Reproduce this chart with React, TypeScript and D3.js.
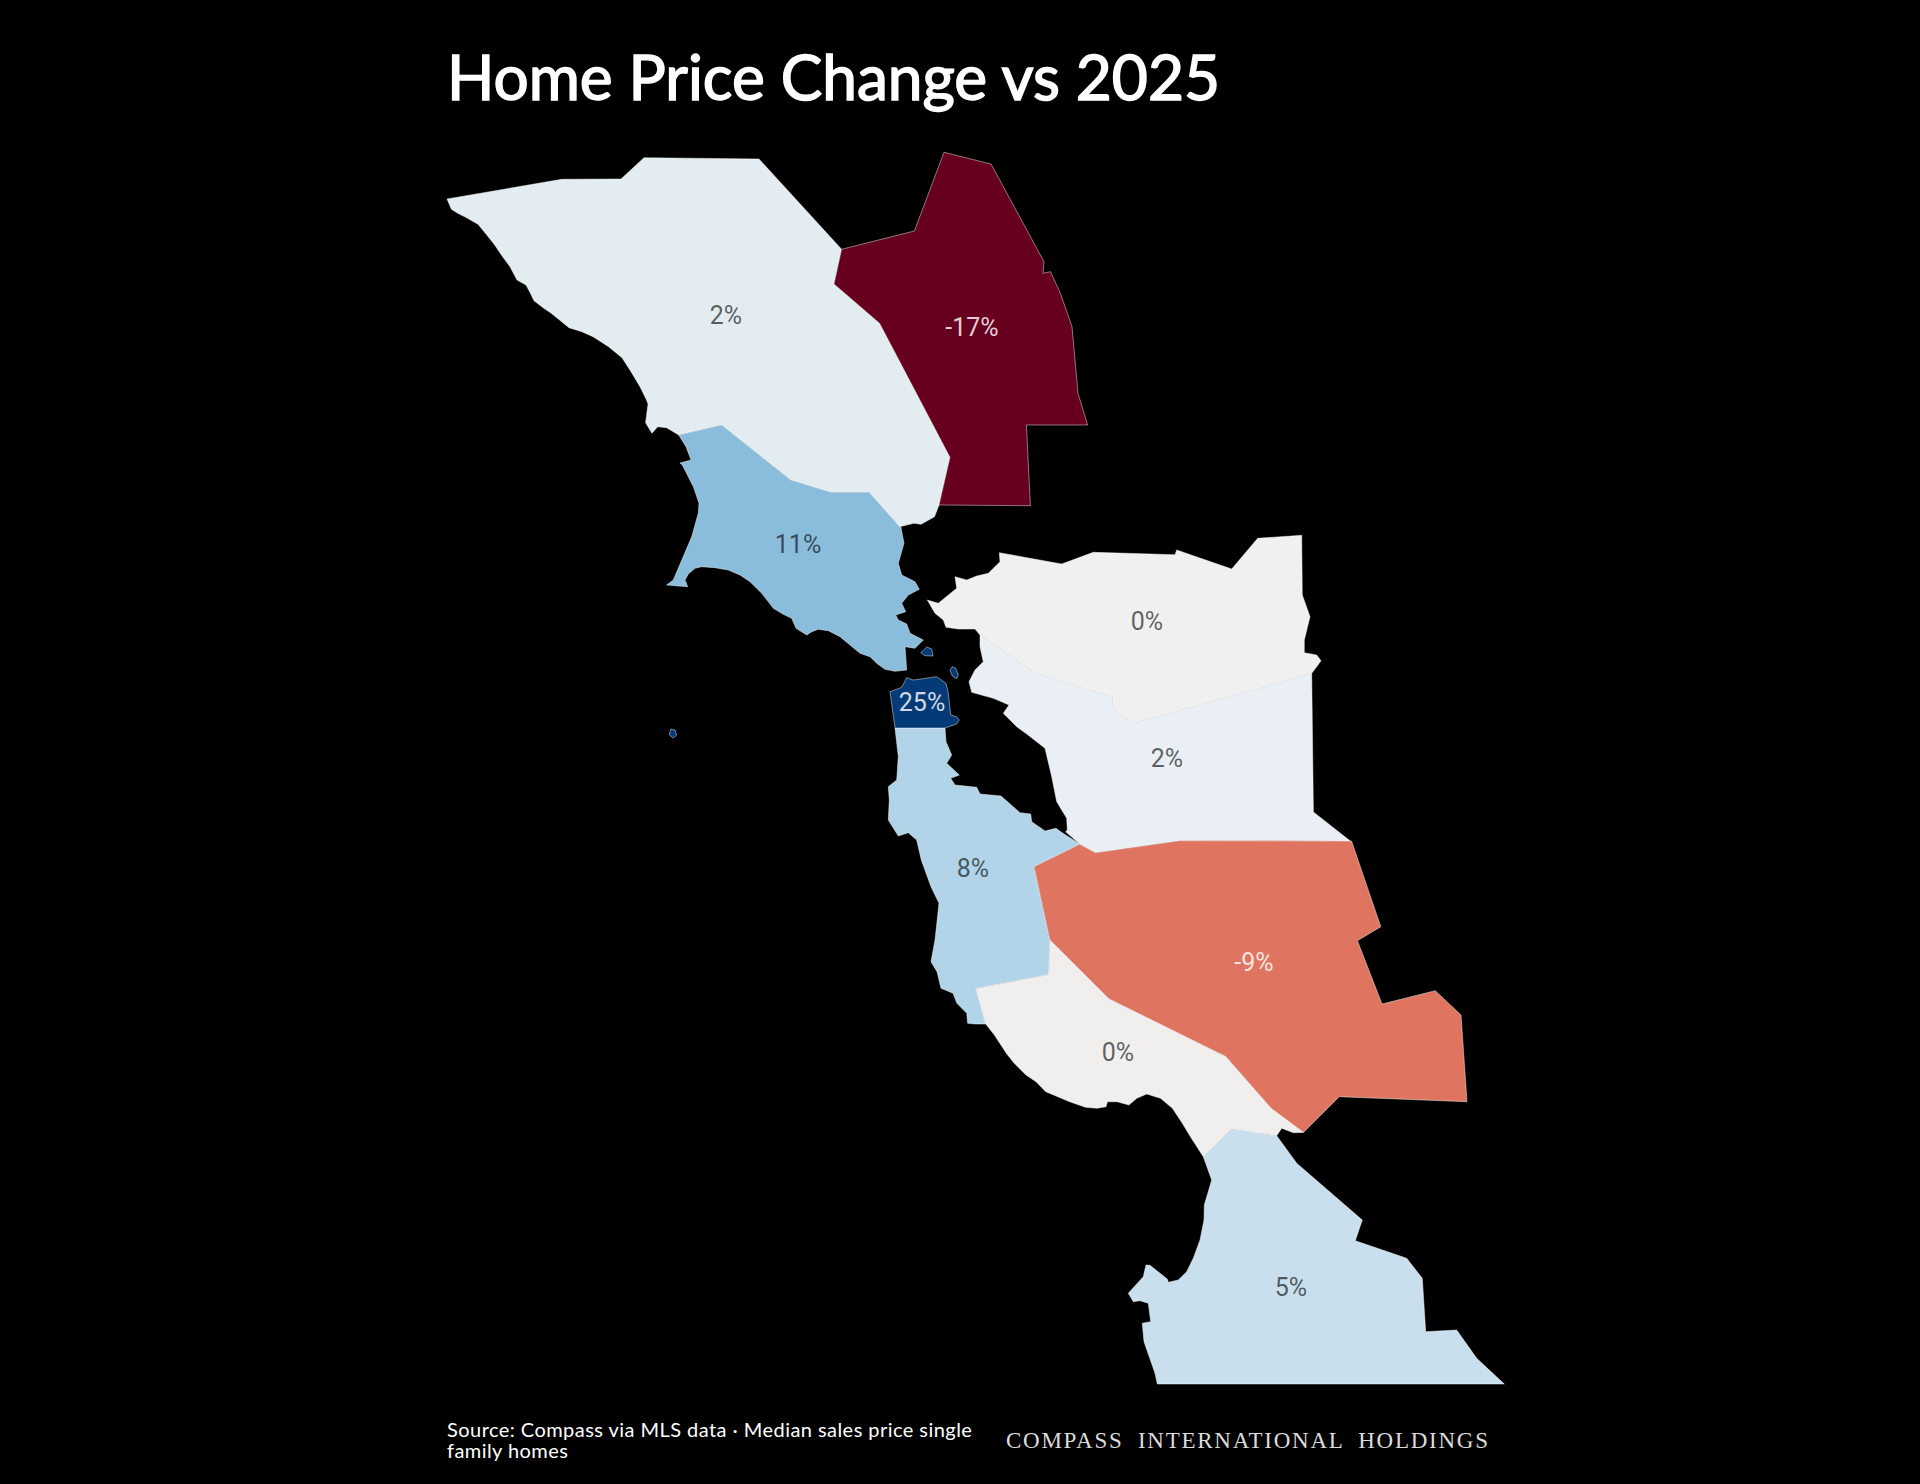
import * as d3 from "d3";
import { useEffect, useRef } from "react";

type Pt = [number, number];

const titleText = "Home Price Change vs 2025";
const sourceLines = ["Source: Compass via MLS data · Median sales price single", "family homes"];
const brandText = "COMPASS INTERNATIONAL HOLDINGS";

// counties and the % change printed on them
const counties = ["Sonoma", "Napa", "Marin", "San Mateo", "Contra Costa", "Alameda", "Santa Clara", "Santa Cruz", "Monterey", "San Francisco"];
const changes = [2, -17, 11, 8, 0, 2, -9, 0, 5, 25];

// outlines, in map units
const sonoma: Pt[] = [[447,199],[451.4,209.3],[457.7,213.3],[465.7,217.3],[478,224.3],[486,234],[494.7,245],[501.4,255],[510,266.7],[517,280],[526,285],[530.4,293.3],[534,300.7],[543.8,308.3],[550.5,312.7],[559.5,320],[569,327.7],[581.8,331.7],[593,336.7],[608.6,346.7],[622,357.7],[631,371.7],[640,386.7],[646.5,400],[648,404],[645.6,422.7],[652,433.3],[657.7,426.7],[666.6,427.7],[678.7,435],[721.5,425],[790.7,480],[831,492.3],[869,492.3],[899.6,526.7],[914,523.3],[921,524.3],[934.5,516.7],[939,505],[950,457.3],[879.6,323.3],[834,284],[841.6,249.3],[759,159],[644,157.7],[621,179],[561.7,179.3]];
const napa: Pt[] = [[841.6,249.3],[834,284],[879.6,323.3],[950,457.3],[939,505],[1030.4,505.7],[1026.4,425],[1087.6,425],[1078,393.3],[1072,326.7],[1060.4,293.3],[1050.5,271.7],[1043,273.3],[1044,261.7],[991,164],[944,152.3],[914.4,231]];
const marin: Pt[] = [[678.7,435],[721.5,425],[790.7,480],[831,492.3],[869,492.3],[899.6,526.7],[900.7,526],[904,543.3],[898.3,563.3],[901.7,575],[915,581.7],[919.3,589.3],[908.3,595],[901.7,603.3],[905.7,611.7],[895.7,615],[898.3,620],[906.7,624],[910,633.3],[923.3,640],[915,648.3],[905,646.7],[906.7,670],[895,671.3],[885,669.3],[876.7,663.3],[870,656.7],[860,653.3],[850,645],[840,636.7],[828.3,630.7],[818.3,629.3],[811.7,631.7],[806.7,635],[796,628.3],[791.7,618.3],[783.3,614.3],[773.3,608.3],[768.3,601.7],[761.7,593.3],[750,581.7],[740,575],[728.3,570],[715,567.7],[701.7,566.7],[695,568.3],[688.3,574],[685,580],[687.7,586.7],[666.7,585],[673.3,580],[691.7,536.7],[698.3,513.3],[699,503.3],[693.4,486.7],[682.3,465],[680,463],[691,460],[686,446.7]];
const sanMateo: Pt[] = [[895,728],[945,728],[946,741.7],[951.7,755],[946.7,763.3],[959.3,775],[950.7,778.3],[955,785],[976.7,787.3],[980,794],[1001,796],[1020,812.7],[1030.7,814],[1031.7,821.7],[1045,831],[1056,828.3],[1060.7,831.7],[1080,844.3],[1034,866.7],[1049.8,940],[1049,974.7],[975.9,988.7],[985.7,1024],[974.7,1024],[967.6,1023.3],[966.8,1013.3],[956.9,1003.3],[953,993.3],[941,988.3],[937,971.7],[931,961.7],[935,940],[939,903.3],[931,886.7],[921.3,860],[916.7,840],[908.3,832.7],[898.3,836],[888.3,820],[889.3,800],[888.3,786.7],[896.7,780],[898.3,756.7]];
const contraCosta: Pt[] = [[999.3,552.7],[1061.7,564],[1093.3,552.3],[1175,554.7],[1176.7,550],[1231.7,569],[1257.7,538.3],[1301.7,535.3],[1302.3,595],[1310,616.7],[1304.3,640],[1304.3,652.7],[1316.7,655],[1321,660.7],[1316.7,666.7],[1311.7,673.3],[1135,722.7],[1116.7,711.7],[1112.3,702.7],[1112.7,696.7],[1035,672.7],[980,635],[975,629],[958.3,629],[946,627.3],[943.3,620],[935,613.3],[927.3,600],[938.3,603.3],[956.7,588.3],[955,576.7],[966.7,580],[976.7,576],[988.3,573.3],[1000,561.7]];
const alameda: Pt[] = [[980,635],[1035,672.7],[1112.7,696.7],[1112.3,702.7],[1116.7,711.7],[1135,722.7],[1311.7,673.3],[1313.4,812],[1350.3,841],[1179.5,840.7],[1095.3,852.7],[1080,844.3],[1065.6,831.7],[1067.3,830],[1066.7,818.3],[1056.7,801.7],[1051.7,776.7],[1045,748.3],[1026.7,734],[1016.7,726.7],[1003.3,713.3],[1009,705],[993.3,698.3],[971.7,692.3],[969,681.7],[975,670],[983.3,661.7],[980,646.7]];
const santaClara: Pt[] = [[1079.5,844.3],[1095.3,852.7],[1179.5,840.7],[1351.5,841],[1380.8,926.7],[1357.4,940.7],[1382,1004],[1435.3,990.7],[1461,1015],[1467,1101.7],[1339.2,1096.7],[1303.7,1132.3],[1295,1126.7],[1271,1108.3],[1225.8,1056.7],[1109,999],[1049.8,940],[1034,866.7]];
const santaCruz: Pt[] = [[1049.8,940],[1109,999],[1225.8,1056.7],[1271,1108.3],[1303.5,1132.5],[1293.3,1132.7],[1281.7,1128.3],[1276.7,1135.7],[1231.7,1129],[1203.3,1156.7],[1191.4,1138.3],[1182.3,1123.3],[1172.4,1108.3],[1160.5,1098.3],[1146.7,1094],[1136.8,1098.3],[1128.9,1105],[1117,1101.7],[1107.5,1101.7],[1106,1106.7],[1097.2,1108.3],[1085.4,1107.3],[1069.6,1101.7],[1057.7,1096.7],[1045.8,1091.7],[1036,1081.7],[1026,1075],[1014.2,1063.3],[1006.3,1053.3],[994.4,1035],[985.7,1024],[975.9,988.7],[1049,974.7]];
const monterey: Pt[] = [[1231.7,1129],[1276.7,1135.7],[1296.7,1163.3],[1362.3,1220],[1355.3,1240.7],[1406.7,1258.3],[1422.3,1278.3],[1425.7,1331.7],[1456.7,1330],[1476.7,1358.3],[1504.3,1384],[1157.3,1384],[1155,1373.3],[1144,1341.7],[1142.3,1323.3],[1150.7,1321.7],[1148.3,1303.3],[1140,1300.7],[1133.3,1301.7],[1128.3,1293.3],[1143.3,1276.7],[1146,1265],[1150,1265.3],[1167.3,1279],[1168.3,1282.3],[1178.3,1280],[1186.7,1271.7],[1193.3,1258.3],[1200,1240],[1204,1220],[1204.3,1205],[1211.7,1180],[1203.3,1156.7]];
const sanFrancisco: Pt[] = [[895,728],[890,691.7],[901.7,687.3],[906.7,677.7],[913.3,680],[936.7,676.7],[946,683.3],[948.3,693.3],[950.7,715],[956.7,716.7],[959.3,720],[956.7,724],[945,728]];
const angelIsland: Pt[] = [[926.7,647],[931.7,649],[933,656],[925,655.7],[920.7,652.7]];
const treasureIsland: Pt[] = [[952.3,666.7],[955.7,668.3],[958.3,675],[956.7,678.7],[952.3,676],[950,670]];
const farallon: Pt[] = [[670.7,729],[675,730],[676.7,735],[673.3,738],[669.3,735]];

// rings per county, same order as counties
const countyRings: Pt[][][] = [[sonoma], [napa], [marin], [sanMateo], [contraCosta], [alameda], [santaClara], [santaCruz], [monterey], [sanFrancisco, angelIsland, treasureIsland, farallon]];

// where the labels sit, map units
const labelAnchors: Pt[] = [[726,315],[972,327],[798,544],[973,868],[1147,621],[1167,758],[1254,962],[1118,1052],[1291,1287],[922,702]];

const fills: Record<string, string> = {
  Sonoma: "#e3edf1",
  Napa: "#67001f",
  Marin: "#8abcdc",
  "San Mateo": "#b1d4e8",
  "Contra Costa": "#f0f0f0",
  Alameda: "#e9eff4",
  "Santa Clara": "#df7560",
  "Santa Cruz": "#f1efee",
  Monterey: "#c9dfed",
  "San Francisco": "#053a78",
};

const darkFill = (v: number) => v <= -9 || v >= 25;

export default function App() {
  const svgRef = useRef<SVGSVGElement>(null);
  const width = 1920;
  const height = 1484;

  useEffect(() => {
    const svg = d3.select(svgRef.current);
    svg.selectAll("*").remove();

    const features = counties.map((name, i) => ({
      type: "Feature" as const,
      properties: { name, change: changes[i] },
      geometry: {
        type: "MultiPolygon" as const,
        coordinates: countyRings[i].map((ring) => [[...ring, ring[0]]]),
      },
    }));

    const projection = d3.geoIdentity();
    const path = d3.geoPath(projection);

    svg
      .append("g")
      .selectAll("path")
      .data(features)
      .enter()
      .append("path")
      .attr("d", (d) => path(d as any))
      .attr("fill", (d) => fills[d.properties.name])
      .attr("stroke", "#fff")
      .attr("stroke-opacity", 0.45)
      .attr("stroke-width", 1)
      .attr("stroke-linejoin", "round");

    // % labels
    svg
      .append("g")
      .selectAll("text")
      .data(features)
      .enter()
      .append("text")
      .attr("x", (_, i) => projection(labelAnchors[i] as any)![0])
      .attr("y", (_, i) => projection(labelAnchors[i] as any)![1])
      .attr("dy", "0.36em")
      .attr("text-anchor", "middle")
      .style("font-family", "Roboto, sans-serif")
      .style("font-size", "25px")
      .attr("fill", (d) => (darkFill(d.properties.change) ? "#fff" : "#000"))
      .attr("fill-opacity", (d) => (darkFill(d.properties.change) ? 0.82 : 0.62))
      .text((d) => `${d.properties.change}%`);

    svg
      .append("text")
      .attr("x", 447)
      .attr("y", 100)
      .attr("fill", "#fff")
      .attr("stroke", "#fff")
      .attr("stroke-width", 1.5)
      .attr("textLength", 773)
      .attr("lengthAdjust", "spacingAndGlyphs")
      .style("font-family", "Lato, sans-serif")
      .style("font-size", "62px")
      .text(titleText);

    svg
      .selectAll("text.source")
      .data(sourceLines)
      .enter()
      .append("text")
      .attr("class", "source")
      .attr("x", 447)
      .attr("y", (_, i) => 1437 + i * 21)
      .attr("fill", "#fff")
      .style("font-family", "Lato, sans-serif")
      .style("font-size", "20px")
      .style("letter-spacing", "0.45px")
      .text((d) => d);

    svg
      .append("text")
      .attr("x", 1006)
      .attr("y", 1448)
      .attr("fill", "#dcdcdc")
      .attr("textLength", 482)
      .style("font-family", "'Liberation Serif', serif")
      .style("font-size", "23px")
      .style("word-spacing", "7px")
      .text(brandText);
  }, []);

  return (
    <svg
      ref={svgRef}
      width={width}
      height={height}
      viewBox={`0 0 ${width} ${height}`}
      style={{ position: "absolute", left: 0, top: 0, background: "#000" }}
    />
  );
}
